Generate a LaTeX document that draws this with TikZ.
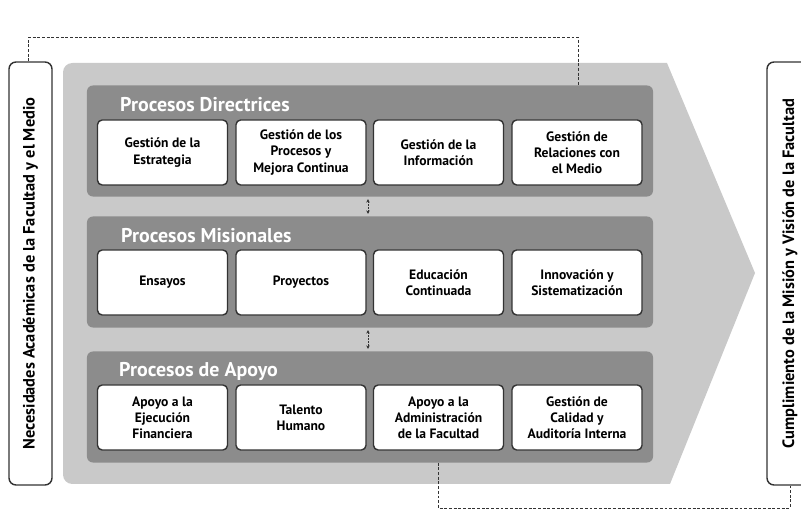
\documentclass[tikz,border=0pt]{standalone}
\usepackage{fontspec}
\setmainfont{PT Sans}
\usetikzlibrary{positioning,calc,arrows.meta}
\definecolor{arrowgray}{gray}{0.79}
\definecolor{panelgray}{gray}{0.55}
\definecolor{edgegray}{gray}{0.2}
\tikzset{procbox/.style={draw=edgegray, line width=1.2pt, fill=white, rounded corners=4pt, minimum width=3.9cm, minimum height=1.95cm, align=center, inner sep=1pt, font=\fontsize{11.6}{13.8}\selectfont\bfseries}}
\tikzset{panel/.style={fill=panelgray, rounded corners=5pt, minimum width=16.98cm, minimum height=3.33cm}}
\tikzset{paneltitle/.style={anchor=west, text=white, inner sep=0pt, font=\fontsize{17}{19}\selectfont\bfseries}}
\tikzset{sidebox/.style={draw=edgegray, line width=1.2pt, fill=white, rounded corners=6pt, rotate=90, minimum width=12.69cm, minimum height=1.29cm, font=\fontsize{14}{16}\selectfont\bfseries}}
\tikzset{feedback/.style={draw=edgegray, line width=0.8pt, dash pattern=on 2.5pt off 1.5pt}}
\tikzset{updown/.style={draw=edgegray, line width=0.8pt, dash pattern=on 1.5pt off 1pt, {Stealth[length=3pt,width=3pt]}-{Stealth[length=3pt,width=3pt]}}}

\begin{document}
\begin{tikzpicture}[x=0.03cm, y=-0.03cm]
                    \useasboundingbox (0, 0) rectangle (801, 512);

                    % chevron in the back
                    \fill[arrowgray] (755, 273) -- (667, 63) [rounded corners=8pt] -- (63, 63) -- (63, 484) [sharp corners] -- (670, 484) -- cycle;

                    % side boxes
                    \node[sidebox] (needs) at (30.5, 273.5) {Necesidades Académicas de la Facultad y el Medio};
                    \node[sidebox, minimum height=1.38cm] (goal) at (790, 273.5) {Cumplimiento de la Misión y Visión de la Facultad};

                    % panels
                    \node[panel] (dir) at (370, 141) {};
                    \node[panel] (mis) at (370, 272) {};
                    \node[panel] (apo) at (370, 407) {};
                    \node[paneltitle] (dirtitle) at (120, 105) {Procesos Directrices};
                    \node[paneltitle] (mistitle) at (121, 236) {Procesos Misionales};
                    \node[paneltitle] (apotitle) at (119, 371) {Procesos de Apoyo};

                    % boxes
                    \node[procbox] (estr) at (162.5, 152.5) {Gestión de la\\Estrategia};
                    \node[procbox] (mejora) at (301, 152.5) {Gestión de los\\Procesos y\\Mejora Continua};
                    \node[procbox] (info) at (438.5, 152.5) {Gestión de la\\Información};
                    \node[procbox] (relac) at (577, 152.5) {Gestión de\\Relaciones con\\el Medio};

                    \node[procbox] (ensayos) at (162.5, 282.5) {Ensayos};
                    \node[procbox] (proy) at (301, 282.5) {Proyectos};
                    \node[procbox] (educ) at (438.5, 282.5) {Educación\\Continuada};
                    \node[procbox] (innov) at (577, 282.5) {Innovación y\\Sistematización};

                    \node[procbox] (financ) at (162.5, 417.5) {Apoyo a la\\Ejecución\\Financiera};
                    \node[procbox] (talento) at (301, 417.5) {Talento\\Humano};
                    \node[procbox] (admin) at (438.5, 417.5) {Apoyo a la\\Administración\\de la Facultad};
                    \node[procbox] (calidad) at (577, 417.5) {Gestión de\\Calidad y\\Auditoría Interna};

                    % links
                    \coordinate (ax) at (368, 0);
                    \draw[updown] ([yshift=-2pt]dir.south -| ax) -- ([yshift=2pt]mis.north -| ax);
                    \draw[updown] ([yshift=-2pt]mis.south -| ax) -- ([yshift=2pt]apo.north -| ax);

                    \coordinate (ctop) at (578, 37);
                    \coordinate (cbot) at (438, 508);
                    \draw[feedback] ([xshift=-1.5]needs.east) |- (ctop) -- (ctop |- dir.north);
                    \draw[feedback] (cbot |- apo.south) -- (cbot) -| (goal.west);
                \end{tikzpicture}
\end{document}
